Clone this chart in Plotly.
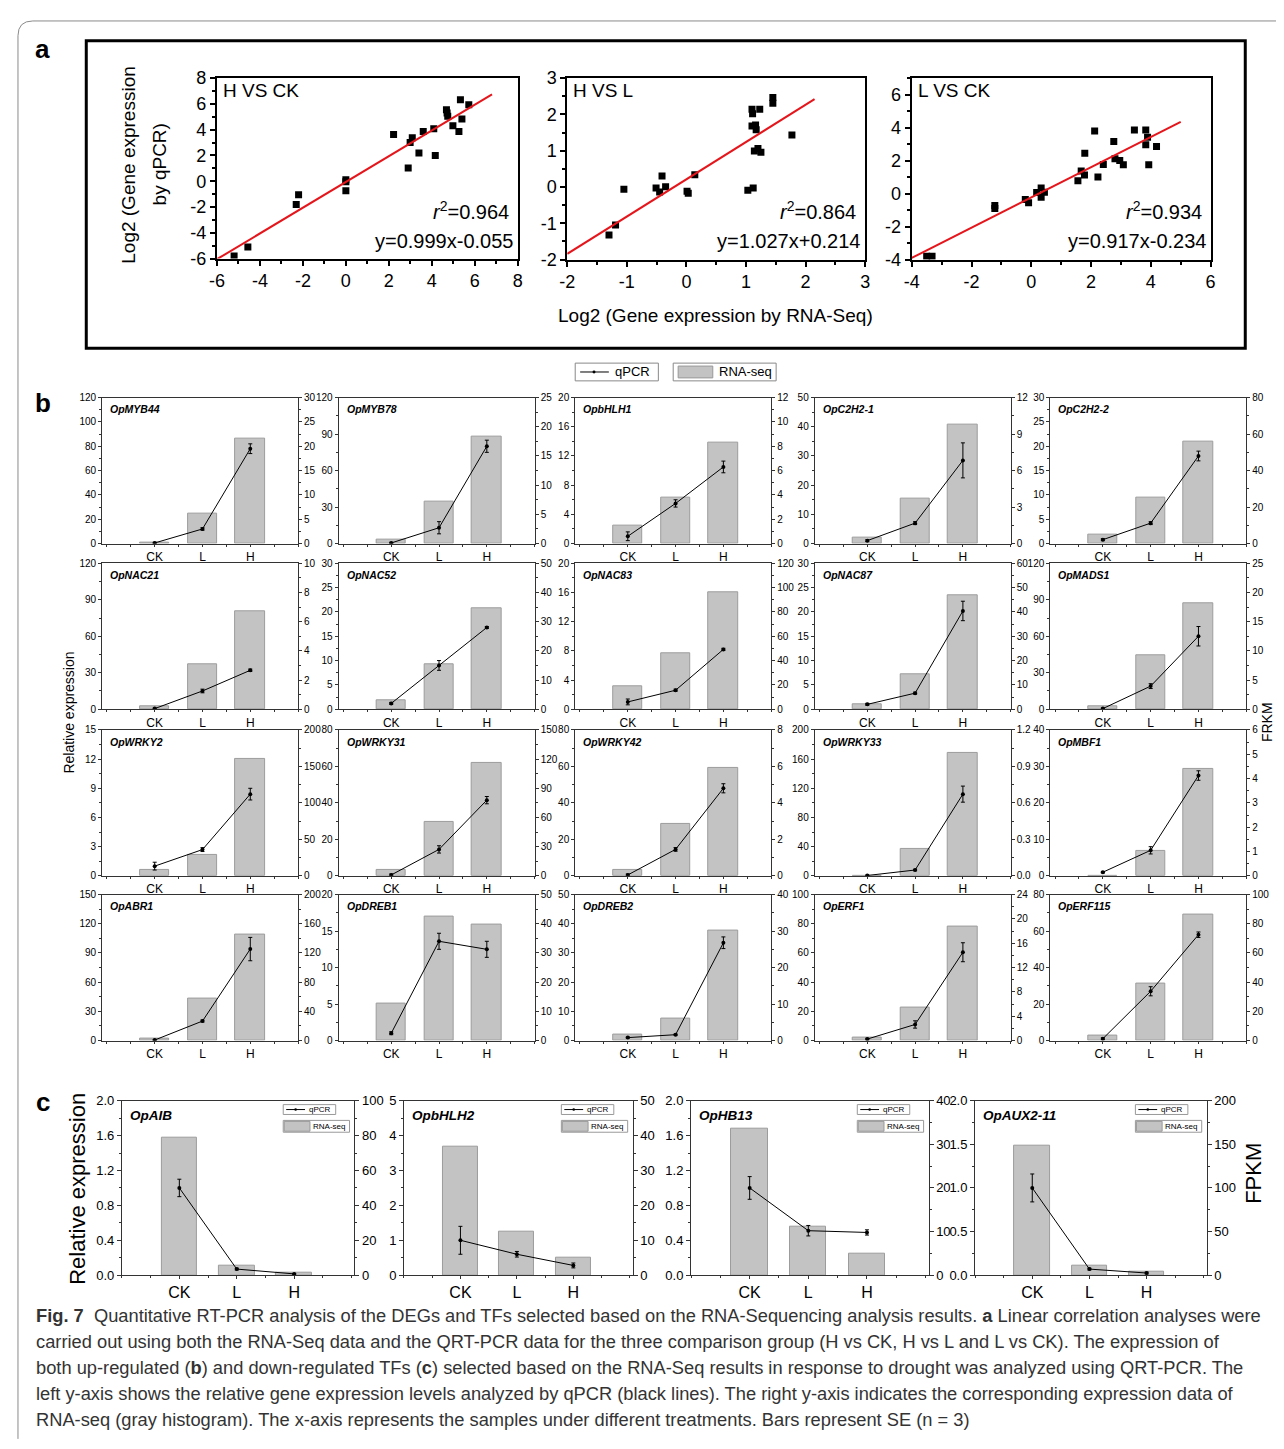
import plotly.graph_objects as go

W, H = 1284, 1449
OFF = 8  # page body margin of the browser
FW, FH = W - 2 * OFF, H - 2 * OFF
FONT = "Liberation Sans, Arial, sans-serif"

# ---------------- Panel a data ----------------
hck_x = [-5.2, -4.56, -2.31, -2.2, 0.0, 0.0, 0.0, 2.22, 2.9, 2.99, 3.09, 3.4, 3.6, 4.09, 4.16,
         4.68, 4.71, 4.74, 4.98, 5.26, 5.33, 5.4, 5.72]
hck_y = [-5.8, -5.1, -1.8, -1.04, 0.12, -0.03, -0.73, 3.63, 1.03, 3.0, 3.38, 2.2, 3.86, 4.08, 1.99,
         5.55, 5.3, 5.05, 4.3, 3.86, 6.33, 4.84, 5.93]
hl_x = [-1.3, -1.19, -1.05, -0.51, -0.45, -0.41, -0.35, 0.01, 0.03, 0.14, 1.03, 1.12, 1.1, 1.11,
        1.23, 1.1, 1.16, 1.17, 1.14, 1.2, 1.25, 1.45, 1.45, 1.77]
hl_y = [-1.32, -1.05, -0.06, -0.03, -0.14, 0.3, 0.01, -0.12, -0.17, 0.34, -0.09, -0.03, 2.14, 2.02,
        2.14, 1.68, 1.71, 1.58, 0.99, 1.06, 0.96, 2.47, 2.31, 1.43]
lck_x = [-3.5, -3.32, -1.22, -1.22, -0.2, -0.09, 0.18, 0.33, 0.33, 0.44, 1.56, 1.67, 1.78, 1.79,
         2.12, 2.23, 2.41, 2.76, 2.8, 2.96, 3.08, 3.45, 3.83, 3.83, 3.89, 3.93, 4.19]
lck_y = [-3.8, -3.8, -0.72, -0.91, -0.36, -0.56, 0.06, 0.34, -0.22, 0.08, 0.78, 1.37, 1.13, 2.45,
         3.8, 1.01, 1.77, 3.16, 2.11, 2.0, 1.75, 3.86, 3.86, 2.96, 3.42, 1.75, 2.86]
comp_names = ["H VS CK", "H VS L", "L VS CK"]
fit_slope = [0.999, 1.027, 0.917]
fit_icpt = [-0.055, 0.214, -0.234]
fit_r2 = ["0.964", "0.864", "0.934"]
fit_eq = ["y=0.999x-0.055", "y=1.027x+0.214", "y=0.917x-0.234"]
fit_xspan = [[-6, 6.8], [-2, 2.15], [-4, 5]]

# ---------------- Panel b data ----------------
categories = ["CK", "L", "H"]
genes_b = ["OpMYB44", "OpMYB78", "OpbHLH1", "OpC2H2-1", "OpC2H2-2",
           "OpNAC21", "OpNAC52", "OpNAC83", "OpNAC87", "OpMADS1",
           "OpWRKY2", "OpWRKY31", "OpWRKY42", "OpWRKY33", "OpMBF1",
           "OpABR1", "OpDREB1", "OpDREB2", "OpERF1", "OpERF115"]
qpcr_b = [[0.5, 12, 78], [0.5, 13, 80], [1, 5.5, 10.5], [1, 7, 28.5], [0.8, 4.2, 18],
          [0.5, 15, 32], [1.2, 9, 16.8], [1, 2.6, 8.2], [1, 3.3, 20.2], [0.5, 19, 60],
          [1, 2.7, 8.4], [0.5, 14.5, 41.5], [0.5, 14.5, 48], [0.5, 8, 112], [1, 7, 27.5],
          [0.5, 20, 94], [1, 13.6, 12.5], [1, 2, 33.5], [1, 11, 60.5], [1, 27, 58]]
qerr_b = [[0.5, 1, 4], [0.5, 5, 5], [0.6, 0.5, 0.8], [0.3, 0.5, 6], [0.2, 0.3, 1],
          [0.5, 1.5, 1], [0.2, 1, 0.2], [0.4, 0.15, 0.15], [0.2, 0.2, 2], [0.5, 2, 8],
          [0.4, 0.2, 0.6], [0.5, 2, 2], [0.5, 1, 2.5], [0.5, 1, 11], [0.2, 1, 1.3],
          [0.5, 1, 12], [0.2, 1.1, 1.1], [0.2, 0.2, 2], [0.5, 2.5, 6.5], [0.5, 2.5, 1.5]]
fpkm_b = [[0.1, 6.1, 21.5], [0.6, 7.2, 18.3], [1.5, 3.8, 8.3], [0.48, 3.7, 9.8], [4.8, 25.3, 56],
          [0.17, 3.1, 6.7], [3, 15.3, 34.5], [19, 46, 96], [2.2, 14.2, 47], [0.5, 9.2, 18.2],
          [8, 29, 160], [6.6, 55, 116], [0.33, 2.85, 5.9], [0, 0.222, 1.008], [0, 1.02, 4.4],
          [2.7, 57, 145], [12.5, 42.5, 39.7], [1.76, 6, 30], [0.48, 5.4, 18.7], [3.5, 39, 86]]
left_max_b = [120, 120, 20, 50, 30, 120, 30, 20, 30, 120, 15, 80, 80, 200, 40, 150, 20, 50, 100, 80]
left_dt_b = [20, 30, 4, 10, 5, 30, 5, 4, 5, 30, 3, 20, 20, 40, 10, 30, 5, 10, 20, 20]
right_max_b = [30, 25, 12, 12, 80, 10, 50, 120, 60, 25, 200, 150, 8, 1.2, 6, 200, 50, 40, 24, 100]
right_dt_b = [5, 5, 2, 3, 20, 2, 10, 20, 10, 5, 50, 30, 2, 0.3, 1, 40, 10, 10, 4, 20]

# ---------------- Panel c data ----------------
genes_c = ["OpAIB", "OpbHLH2", "OpHB13", "OpAUX2-11"]
qpcr_c = [[1.0, 0.07, 0.015], [1.0, 0.6, 0.28], [1.0, 0.51, 0.49], [1.0, 0.07, 0.025]]
qerr_c = [[0.1, 0.01, 0.005], [0.4, 0.08, 0.07], [0.13, 0.06, 0.03], [0.16, 0.01, 0.01]]
fpkm_c = [[79, 5.5, 1.5], [36.8, 12.4, 5.1], [33.6, 11.2, 5.0], [148, 11, 4]]
left_max_c = [2.0, 5, 2.0, 2.0]
left_dt_c = [0.4, 1, 0.4, 0.5]
right_max_c = [100, 50, 40, 200]
right_dt_c = [20, 10, 10, 50]

caption_lines = [
    "<b>Fig. 7</b>  Quantitative RT-PCR analysis of the DEGs and TFs selected based on the RNA-Sequencing analysis results. <b>a</b> Linear correlation analyses were",
    "carried out using both the RNA-Seq data and the QRT-PCR data for the three comparison group (H vs CK, H vs L and L vs CK). The expression of",
    "both up-regulated (<b>b</b>) and down-regulated TFs (<b>c</b>) selected based on the RNA-Seq results in response to drought was analyzed using QRT-PCR. The",
    "left y-axis shows the relative gene expression levels analyzed by qPCR (black lines). The right y-axis indicates the corresponding expression data of",
    "RNA-seq (gray histogram). The x-axis represents the samples under different treatments. Bars represent SE (n = 3)",
]

# ---------------- helpers ----------------
fig = go.Figure()
layout = {}
annotations = []
shapes = []
cnt = {"x": 0, "y": 0}


def new_axis(kind):
    cnt[kind] += 1
    n = cnt[kind]
    return (f"{kind}axis" if n == 1 else f"{kind}axis{n}"), (kind if n == 1 else f"{kind}{n}")


def fx(p):
    return (p - OFF) / FW


def fy(p):
    return 1 - (p - OFF) / FH


def text(x, y, s, size, xanchor="left", yanchor="middle", angle=0, family=FONT, color="black"):
    annotations.append(dict(x=fx(x), y=fy(y), xref="paper", yref="paper", text=s, showarrow=False,
                            xanchor=xanchor, yanchor=yanchor, textangle=angle,
                            font=dict(size=size, family=family, color=color)))


def rect(x0, y0, x1, y1, line_color="black", width=1, fill=None):
    shapes.append(dict(type="rect", xref="paper", yref="paper", x0=fx(x0), x1=fx(x1),
                       y0=fy(y1), y1=fy(y0), line=dict(color=line_color, width=width),
                       fillcolor=fill if fill else "rgba(0,0,0,0)"))


def hline(x0, x1, y, color="black", width=1):
    shapes.append(dict(type="line", xref="paper", yref="paper", x0=fx(x0), x1=fx(x1),
                       y0=fy(y), y1=fy(y), line=dict(color=color, width=width)))


def dot(x, y, r):
    shapes.append(dict(type="circle", xref="paper", yref="paper", x0=fx(x - r), x1=fx(x + r),
                       y0=fy(y + r), y1=fy(y - r), line=dict(color="black", width=0), fillcolor="black"))


# ---------------- Panel a ----------------
rect(79, 31, 1250, 343, width=3)
text(35, 39, "<b>a</b>", 26, xanchor="center")
a_boxes = [(211, 515, 69, 252), (565, 866, 69, 253), (913, 1215, 69, 253)]
a_xrange = [[-6, 8], [-2, 3], [-4, 6]]
a_yrange = [[-6, 8], [-2, 3], [-4, 7]]
a_xticks = [list(range(-6, 9, 2)), list(range(-2, 4)), list(range(-4, 7, 2))]
a_yticks = [list(range(-6, 9, 2)), list(range(-2, 4)), list(range(-4, 7, 2))]
a_minor = [1, 0.5, 1]
a_pts = [(hck_x, hck_y), (hl_x, hl_y), (lck_x, lck_y)]

for i, (l, r, t, b) in enumerate(a_boxes):
    xn, xr = new_axis("x")
    yn, yr = new_axis("y")
    common = dict(showline=True, linewidth=2, linecolor="black", mirror=True, ticks="outside",
                  ticklen=5, tickwidth=1.5, tickcolor="black", showgrid=False, zeroline=False,
                  tickfont=dict(size=18, family=FONT, color="black"))
    layout[xn] = dict(domain=[fx(l), fx(r)], anchor=yr, range=a_xrange[i], tickvals=a_xticks[i],
                      ticktext=[str(v) for v in a_xticks[i]],
                      minor=dict(dtick=a_minor[i], ticks="outside", ticklen=3, tickcolor="black"), **common)
    layout[yn] = dict(domain=[fy(b), fy(t)], anchor=xr, range=a_yrange[i], tickvals=a_yticks[i],
                      ticktext=[str(v) for v in a_yticks[i]],
                      minor=dict(dtick=a_minor[i], ticks="outside", ticklen=3, tickcolor="black"), **common)
    px, py = a_pts[i]
    fig.add_trace(go.Scatter(x=px, y=py, mode="markers", xaxis=xr, yaxis=yr, showlegend=False,
                             marker=dict(symbol="square", size=7, color="black")))
    x0, x1 = fit_xspan[i]
    fig.add_trace(go.Scatter(x=[x0, x1], y=[fit_slope[i] * x0 + fit_icpt[i], fit_slope[i] * x1 + fit_icpt[i]],
                             mode="lines", xaxis=xr, yaxis=yr, showlegend=False,
                             line=dict(color="#e4161c", width=2)))
    text(l + 4, t + 13, comp_names[i], 19)
    text(r - 7, t + 134, f"<i>r</i><sup>2</sup>=" + fit_r2[i], 20, xanchor="right")
    text(r - 3, t + 165, fit_eq[i], 20, xanchor="right")

text(122, 157, "Log2 (Gene expression", 19, xanchor="center", angle=-90)
text(153, 157, "by qPCR)", 19, xanchor="center", angle=-90)
text(715, 310, "Log2 (Gene expression by RNA-Seq)", 19, xanchor="center")


# ---------------- dual-axis subplot ----------------
def dual(l, r, t, b, xrange, gene, q, qe, fp, lmax, ldt, rmax, rdt, tick_size, cat_size, gene_size,
         lfmt="", rfmt="", gene_dy=12, ticklen=3, xticklen=2):
    xn, xr = new_axis("x")
    ybn, ybr = new_axis("y")   # base axis: right side, FPKM bars
    yln, ylr = new_axis("y")   # overlay axis: left side, qPCR line
    tf = dict(size=tick_size, family=FONT, color="black")
    layout[xn] = dict(domain=[fx(l), fx(r)], anchor=ybr, range=xrange, tickvals=[1, 2, 3],
                      ticktext=categories, showline=True, mirror=True, linecolor="#333", linewidth=1,
                      ticks="outside", ticklen=xticklen, tickcolor="#333", showgrid=False, zeroline=False,
                      tickfont=dict(size=cat_size, family=FONT, color="black"),
                      minor=dict(dtick=0.5, ticks="outside", ticklen=2, tickcolor="#333"))
    layout[ybn] = dict(domain=[fy(b), fy(t)], anchor=xr, side="right", range=[0, rmax], dtick=rdt,
                       tick0=0, showline=True, linecolor="#333", linewidth=1, ticks="outside", ticklen=ticklen,
                       tickcolor="#333", showgrid=False, zeroline=False, tickfont=tf, tickformat=rfmt,
                       minor=dict(dtick=rdt / 2, ticks="outside", ticklen=2, tickcolor="#333"))
    layout[yln] = dict(anchor=xr, overlaying=ybr, side="left", range=[0, lmax], dtick=ldt, tick0=0,
                       showline=True, linecolor="#333", linewidth=1, ticks="outside", ticklen=ticklen,
                       tickcolor="#333", showgrid=False, zeroline=False, tickfont=tf, tickformat=lfmt,
                       minor=dict(dtick=ldt / 2, ticks="outside", ticklen=2, tickcolor="#333"))
    fig.add_trace(go.Bar(x=[1, 2, 3], y=fp, width=0.62, xaxis=xr, yaxis=ybr, showlegend=False,
                         marker=dict(color="#c3c3c3", line=dict(color="#9c9c9c", width=1))))
    fig.add_trace(go.Scatter(x=[1, 2, 3], y=q, mode="lines+markers", xaxis=xr, yaxis=ylr, showlegend=False,
                             line=dict(color="black", width=1), marker=dict(size=4, color="black"),
                             error_y=dict(type="data", array=qe, color="black", thickness=1, width=2)))
    text(l + 6, t + gene_dy, f"<b><i>{gene}</i></b>", gene_size)


# ---------------- Panel b ----------------
text(35, 398, "<b>b</b>", 26, xanchor="center")
cols_l = [95, 334, 573, 815, 1053]
rows_t = [393, 561, 730, 897]
for k, gene in enumerate(genes_b):
    ri, ci = divmod(k, 5)
    l = cols_l[ci]
    t = rows_t[ri]
    rf = ".1f" if right_dt_b[k] < 1 else ""
    dual(l, l + 198, t, t + 148, [-0.1, 4.0], gene, qpcr_b[k], qerr_b[k], fpkm_b[k],
         left_max_b[k], left_dt_b[k], right_max_b[k], right_dt_b[k], 10, 12, 10.5, rfmt=rf)

# legend of panel b
rect(573, 358, 657, 376, line_color="#888")
hline(578, 607, 367, width=1)
dot(592, 367, 1.5)
text(611, 367, "qPCR", 13)
rect(672, 358, 776, 376, line_color="#888")
rect(677, 361, 712, 373, line_color="#999", fill="#c3c3c3")
text(716, 367, "RNA-seq", 13)
text(62, 712, "Relative expression", 14, xanchor="center", angle=-90)
text(1272, 722, "FRKM", 14, xanchor="center", angle=-90)

# ---------------- Panel c ----------------
text(35, 1107, "<b>c</b>", 26, xanchor="center")
c_l = [115, 400, 690, 977]
c_r = [350, 631, 930, 1211]
c_t = 1106
c_b = 1283
for k, gene in enumerate(genes_c):
    l, r = c_l[k], c_r[k]
    lf = ".1f" if left_dt_c[k] < 1 else ""
    dual(l, r, c_t, c_b, [0, 4.05], gene, qpcr_c[k], qerr_c[k], fpkm_c[k],
         left_max_c[k], left_dt_c[k], right_max_c[k], right_dt_c[k], 13, 16, 13.5, lfmt=lf,
         gene_dy=15, ticklen=4, xticklen=3)
    # inner legend
    rect(r - 72, c_t + 4, r - 19, c_t + 14, line_color="#999")
    hline(r - 69, r - 50, c_t + 9, width=1)
    dot(r - 59.5, c_t + 9, 1.3)
    text(r - 48, c_t + 9, "qPCR", 8)
    rect(r - 72, c_t + 20, r - 5, c_t + 32, line_color="#999")
    rect(r - 71, c_t + 21, r - 45, c_t + 31, line_color="#999", fill="#c3c3c3")
    text(r - 44, c_t + 26, "RNA-seq", 8)

text(70, 1195, "Relative expression", 22, xanchor="center", angle=-90)
text(1258, 1180, "FPKM", 22, xanchor="center", angle=-90)

# ---------------- caption & page frame ----------------
for i, line in enumerate(caption_lines):
    text(26, 1324 + i * 26.3, line, 18.3, color="#333")

shapes.append(dict(type="path", xref="paper", yref="paper",
                   path=f"M {fx(10)},{fy(1449)} L {fx(10)},{fy(26)} Q {fx(10)},{fy(11)} {fx(25)},{fy(11)} L {fx(1284)},{fy(11)}",
                   line=dict(color="#8a8a8a", width=1)))

fig.update_layout(width=FW, height=FH, margin=dict(l=0, r=0, t=0, b=0), paper_bgcolor="white",
                  plot_bgcolor="rgba(0,0,0,0)", showlegend=False, bargap=0,
                  annotations=annotations, shapes=shapes, font=dict(family=FONT, color="black"),
                  **layout)

fig.write_html("out.html", config={"displayModeBar": False})
